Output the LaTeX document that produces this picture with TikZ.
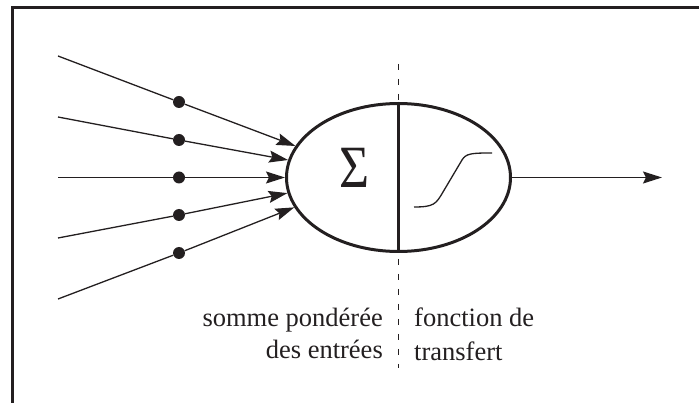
\documentclass[tikz,border=0pt]{standalone}
\usepackage{fontspec}
\setmainfont{Liberation Serif}
\usetikzlibrary{arrows.meta,shapes.geometric}
\definecolor{ink}{RGB}{35,31,32}
\begin{document}
\begin{tikzpicture}[x=1pt,y=-1pt,
  lbl/.style={font=\fontsize{26.5}{32}\selectfont, text=ink, inner sep=0pt},
  inp/.style={draw=ink, line width=1.3pt},
  arr/.style={inp, -{Stealth[length=19pt,width=12pt,inset=3pt]}},
  wdot/.style={circle, fill=ink, inner sep=0pt, minimum size=12pt},
  neuronbox/.style={ellipse, draw=ink, line width=3pt, minimum width=224pt, minimum height=148pt, inner sep=0pt},
  framestyle/.style={draw=ink, line width=2.8pt},
  divline/.style={draw=ink, line width=2.6pt},
  sepline/.style={draw=ink, line width=1.3pt, dash pattern=on 6.5pt off 8.5pt},
  curvestyle/.style={draw=ink, line width=1.3pt}
]
\useasboundingbox (0,0) rectangle (699,403);
% frame
\coordinate (fbl) at (12.5,405);
\coordinate (ftl) at (12.5,7.5);
\coordinate (ftr) at (701,7.5);
\draw[framestyle] (fbl) -- (ftl) -- (ftr);
% dashed separator
\coordinate (dtop) at (398.5,64);
\coordinate (dbot) at (398.5,368);
\draw[sepline] (dtop) -- (dbot);
% neuron
\node[neuronbox, fill=white] (neuron) at (398.5,177.5) {};
\draw[divline] (neuron.north) -- (neuron.south);
\node[font=\fontsize{60}{60}\selectfont, text=ink, inner sep=0pt, xscale=0.86] (sigma) at (355,168) {Σ};
% sigmoid
\coordinate (c0) at (414,207);
\coordinate (c1) at (443,192);
\coordinate (c2) at (462,160);
\coordinate (c3) at (492,153);
\draw[curvestyle] (c0) .. controls (434,207) and (436,204) .. (c1) -- (c2) .. controls (466,153.3) and (472,153) .. (c3);
% inputs
\coordinate (s1) at (58,56);
\coordinate (s2) at (58,117);
\coordinate (s3) at (58,177.5);
\coordinate (s4) at (58,238);
\coordinate (s5) at (58,299);
\node[wdot] (d1) at (179,102) {};
\node[wdot] (d2) at (179,140) {};
\node[wdot] (d3) at (179,177.5) {};
\node[wdot] (d4) at (179,215) {};
\node[wdot] (d5) at (179,253) {};
\draw[inp] (s1) -- (d1);
\draw[inp] (s2) -- (d2);
\draw[inp] (s3) -- (d3);
\draw[inp] (s4) -- (d4);
\draw[inp] (s5) -- (d5);
\draw[arr] (d1) -- (neuron.163.1);
\draw[arr] (d2) -- (neuron.171.4);
\draw[arr] (d3) -- (neuron.180);
\draw[arr] (d4) -- (neuron.188.6);
\draw[arr] (d5) -- (neuron.196.9);
% output
\coordinate (out) at (662,177.5);
\draw[arr] (neuron.east) -- (out);
% labels
\node[lbl, anchor=base east] (t1) at (383,327) {somme pondérée};
\node[lbl, anchor=base east] (t2) at (383,359) {des entrées};
\node[lbl, anchor=base west] (t3) at (414,327) {fonction de};
\node[lbl, anchor=base west] (t4) at (414,360) {transfert};
\end{tikzpicture}
\end{document}
